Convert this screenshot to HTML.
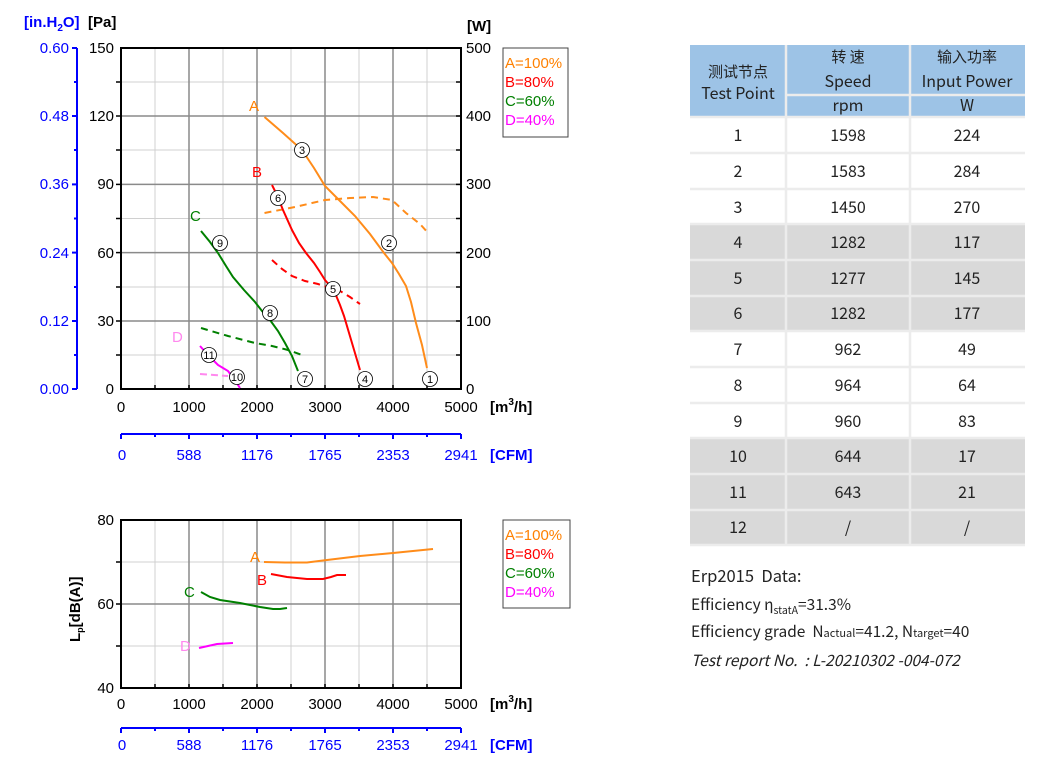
<!DOCTYPE html>
<html><head><meta charset="utf-8"><style>
html,body{margin:0;padding:0;background:#fff;width:1048px;height:771px;overflow:hidden}
svg{display:block}
.t{font-family:"Liberation Sans",sans-serif;font-size:15px}
.b{font-family:"Liberation Sans",sans-serif;font-size:15px;font-weight:bold}
.tb{font-family:"Noto Sans CJK SC","Liberation Sans",sans-serif;font-size:16px;fill:#222}
.c text{font-family:"Liberation Sans",sans-serif;font-size:11px;text-anchor:middle}
</style></head><body>
<svg width="1048" height="771" viewBox="0 0 1048 771" xmlns="http://www.w3.org/2000/svg">
<g stroke="#d0d0d0" stroke-width="1">
<line x1="155" y1="48" x2="155" y2="389"/><line x1="223" y1="48" x2="223" y2="389"/><line x1="291" y1="48" x2="291" y2="389"/><line x1="359" y1="48" x2="359" y2="389"/><line x1="427" y1="48" x2="427" y2="389"/>
<line x1="121" y1="355" x2="461" y2="355"/><line x1="121" y1="287" x2="461" y2="287"/><line x1="121" y1="218.5" x2="461" y2="218.5"/><line x1="121" y1="150" x2="461" y2="150"/><line x1="121" y1="82" x2="461" y2="82"/>
</g>
<g stroke="#8a8a8a" stroke-width="1.5">
<line x1="189" y1="48" x2="189" y2="389"/><line x1="257" y1="48" x2="257" y2="389"/><line x1="325" y1="48" x2="325" y2="389"/><line x1="393" y1="48" x2="393" y2="389"/>
<line x1="121" y1="321" x2="461" y2="321"/><line x1="121" y1="252.6" x2="461" y2="252.6"/><line x1="121" y1="184.4" x2="461" y2="184.4"/><line x1="121" y1="116" x2="461" y2="116"/>
</g>
<rect x="121" y="48" width="340" height="341" fill="none" stroke="#000" stroke-width="2"/>
<g stroke="#000" stroke-width="1.5">
<line x1="155" y1="389" x2="155" y2="385"/><line x1="189" y1="389" x2="189" y2="385"/><line x1="223" y1="389" x2="223" y2="385"/><line x1="257" y1="389" x2="257" y2="385"/><line x1="291" y1="389" x2="291" y2="385"/><line x1="325" y1="389" x2="325" y2="385"/><line x1="359" y1="389" x2="359" y2="385"/><line x1="393" y1="389" x2="393" y2="385"/><line x1="427" y1="389" x2="427" y2="385"/>
<line x1="121" y1="355" x2="116" y2="355"/><line x1="121" y1="321" x2="116" y2="321"/><line x1="121" y1="287" x2="116" y2="287"/><line x1="121" y1="252.6" x2="116" y2="252.6"/><line x1="121" y1="218.5" x2="116" y2="218.5"/><line x1="121" y1="184.4" x2="116" y2="184.4"/><line x1="121" y1="150" x2="116" y2="150"/><line x1="121" y1="116" x2="116" y2="116"/><line x1="121" y1="82" x2="116" y2="82"/>
<line x1="461" y1="355" x2="456" y2="355"/><line x1="461" y1="321" x2="456" y2="321"/><line x1="461" y1="287" x2="456" y2="287"/><line x1="461" y1="252.6" x2="456" y2="252.6"/><line x1="461" y1="218.5" x2="456" y2="218.5"/><line x1="461" y1="184.4" x2="456" y2="184.4"/><line x1="461" y1="150" x2="456" y2="150"/><line x1="461" y1="116" x2="456" y2="116"/><line x1="461" y1="82" x2="456" y2="82"/>
</g>
<g stroke="#0000ff" stroke-width="2"><line x1="77" y1="48" x2="77" y2="389"/>
<line x1="77" y1="48" x2="72" y2="48"/><line x1="77" y1="116" x2="72" y2="116"/><line x1="77" y1="184.4" x2="72" y2="184.4"/><line x1="77" y1="252.6" x2="72" y2="252.6"/><line x1="77" y1="321" x2="72" y2="321"/><line x1="77" y1="389" x2="72" y2="389"/>
<line x1="77" y1="82" x2="74" y2="82"/><line x1="77" y1="150" x2="74" y2="150"/><line x1="77" y1="218.5" x2="74" y2="218.5"/><line x1="77" y1="287" x2="74" y2="287"/><line x1="77" y1="355" x2="74" y2="355"/></g>
<g class="t" fill="#0000ff" text-anchor="end">
<text x="69" y="53">0.60</text><text x="69" y="121">0.48</text><text x="69" y="189">0.36</text><text x="69" y="258">0.24</text><text x="69" y="326">0.12</text><text x="69" y="394">0.00</text></g>
<g class="t" fill="#000" text-anchor="end">
<text x="114" y="53">150</text><text x="114" y="121">120</text><text x="114" y="189">90</text><text x="114" y="258">60</text><text x="114" y="326">30</text><text x="114" y="394">0</text></g>
<g class="t" fill="#000">
<text x="466" y="53">500</text><text x="466" y="121">400</text><text x="466" y="189">300</text><text x="466" y="258">200</text><text x="466" y="326">100</text><text x="466" y="394">0</text></g>
<text x="24" y="27" class="b" fill="#0000ff">[in.H<tspan font-size="10" dy="4">2</tspan><tspan dy="-4">O]</tspan></text>
<text x="88" y="27" class="b" fill="#000">[Pa]</text>
<text x="467" y="31" class="b" fill="#000">[W]</text>
<g class="t" fill="#000" text-anchor="middle">
<text x="121" y="412">0</text><text x="189" y="412">1000</text><text x="257" y="412">2000</text><text x="325" y="412">3000</text><text x="393" y="412">4000</text><text x="461" y="412">5000</text></g>
<text x="490" y="412" class="b">[m<tspan font-size="10" dy="-7">3</tspan><tspan dy="7">/h]</tspan></text>
<g stroke="#0000ff" stroke-width="2"><line x1="121" y1="434" x2="461" y2="434"/>
<line x1="121" y1="434" x2="121" y2="439"/><line x1="155" y1="434" x2="155" y2="437"/><line x1="189" y1="434" x2="189" y2="439"/><line x1="223" y1="434" x2="223" y2="437"/><line x1="257" y1="434" x2="257" y2="439"/><line x1="291" y1="434" x2="291" y2="437"/><line x1="325" y1="434" x2="325" y2="439"/><line x1="359" y1="434" x2="359" y2="437"/><line x1="393" y1="434" x2="393" y2="439"/><line x1="427" y1="434" x2="427" y2="437"/><line x1="461" y1="434" x2="461" y2="439"/></g>
<g class="t" fill="#0000ff" text-anchor="middle">
<text x="122" y="460">0</text><text x="189" y="460">588</text><text x="257" y="460">1176</text><text x="325" y="460">1765</text><text x="393" y="460">2353</text><text x="461" y="460">2941</text></g>
<text x="490" y="460" class="b" fill="#0000ff">[CFM]</text>
<rect x="503" y="48" width="65" height="89" fill="#fff" stroke="#444" stroke-width="1"/>
<g class="t"><text x="505" y="68" fill="#ff8000">A=100%</text><text x="505" y="87" fill="#ff0000">B=80%</text><text x="505" y="106" fill="#008000">C=60%</text><text x="505" y="125" fill="#ff00ff">D=40%</text></g>
<g fill="none" stroke-width="2">
<polyline stroke="#ff8c1a" points="264.5,117 283,133 302,150 314,168 325,186 340,201 355,216 370,234 384,253 392,263 399,274 406,286 411,302 416,323 422,345 427,368"/>
<polyline stroke="#ff8c1a" stroke-dasharray="7,5" points="264.5,213 295,207 325,200 350,198 373,197 392,200 406,213 420,224 429,234"/>
<polyline stroke="#ff0000" points="272,185 277,195 283,210 292,230 299,243 306,253 314,263 320,272 325,280 331,287 335,293 340,305 344,316 352,343 360,370"/>
<polyline stroke="#ff0000" stroke-dasharray="7,5" points="272,260 282,269 292,276 305,281 318,284 330,288 340,291 350,297 360,304"/>
<polyline stroke="#008000" points="201,231 210,242 218,253 226,266 233,277 244,290 255,302 262,311 270,320 278,331 285,343 292,356 298,371"/>
<polyline stroke="#008000" stroke-dasharray="7,5" points="201,328 228,336 255,343 272,346 288,350 302,355"/>
<polyline stroke="#ff00ff" points="200,346 209,356 218,365 228,371 234,379 240,388"/>
<polyline stroke="#ff88ee" stroke-dasharray="7,4" points="200,374 214,375 228,376"/>
</g>
<g class="t" font-size="15"><text x="249" y="111" fill="#ff8000">A</text><text x="252" y="177" fill="#ff0000">B</text><text x="190" y="221" fill="#008000">C</text><text x="172" y="342" fill="#ff88ee">D</text></g>
<g class="c" stroke-width="0.8">
<g><circle cx="302" cy="150" r="7.5" fill="#fff" stroke="#000"/><text x="302" y="154">3</text></g>
<g><circle cx="278" cy="198" r="7.5" fill="#fff" stroke="#000"/><text x="278" y="202">6</text></g>
<g><circle cx="389" cy="243" r="7.5" fill="#fff" stroke="#000"/><text x="389" y="247">2</text></g>
<g><circle cx="220" cy="243" r="7.5" fill="#fff" stroke="#000"/><text x="220" y="247">9</text></g>
<g><circle cx="333" cy="289" r="7.5" fill="#fff" stroke="#000"/><text x="333" y="293">5</text></g>
<g><circle cx="270" cy="313" r="7.5" fill="#fff" stroke="#000"/><text x="270" y="317">8</text></g>
<g><circle cx="209" cy="355" r="7.5" fill="#fff" stroke="#000"/><text x="209" y="359" font-size="10">11</text></g>
<g><circle cx="237" cy="377" r="7.5" fill="#fff" stroke="#000"/><text x="237" y="381" font-size="10">10</text></g>
<g><circle cx="305" cy="379" r="7.5" fill="#fff" stroke="#000"/><text x="305" y="383">7</text></g>
<g><circle cx="365" cy="379" r="7.5" fill="#fff" stroke="#000"/><text x="365" y="383">4</text></g>
<g><circle cx="430" cy="379" r="7.5" fill="#fff" stroke="#000"/><text x="430" y="383">1</text></g>
</g>

<g stroke="#d0d0d0" stroke-width="1">
<line x1="155" y1="520" x2="155" y2="688"/><line x1="223" y1="520" x2="223" y2="688"/><line x1="291" y1="520" x2="291" y2="688"/><line x1="359" y1="520" x2="359" y2="688"/><line x1="427" y1="520" x2="427" y2="688"/>
<line x1="121" y1="562" x2="461" y2="562"/><line x1="121" y1="646" x2="461" y2="646"/></g>
<g stroke="#8a8a8a" stroke-width="1.5">
<line x1="189" y1="520" x2="189" y2="688"/><line x1="257" y1="520" x2="257" y2="688"/><line x1="325" y1="520" x2="325" y2="688"/><line x1="393" y1="520" x2="393" y2="688"/>
<line x1="121" y1="604" x2="461" y2="604"/></g>
<rect x="121" y="520" width="340" height="168" fill="none" stroke="#000" stroke-width="2"/>
<g stroke="#000" stroke-width="1.5">
<line x1="155" y1="688" x2="155" y2="684"/><line x1="189" y1="688" x2="189" y2="684"/><line x1="223" y1="688" x2="223" y2="684"/><line x1="257" y1="688" x2="257" y2="684"/><line x1="291" y1="688" x2="291" y2="684"/><line x1="325" y1="688" x2="325" y2="684"/><line x1="359" y1="688" x2="359" y2="684"/><line x1="393" y1="688" x2="393" y2="684"/><line x1="427" y1="688" x2="427" y2="684"/>
<line x1="121" y1="562" x2="116" y2="562"/><line x1="121" y1="604" x2="116" y2="604"/><line x1="121" y1="646" x2="116" y2="646"/></g>
<g class="t" text-anchor="end"><text x="114" y="525">80</text><text x="114" y="609">60</text><text x="114" y="693">40</text></g>
<text transform="translate(80,642) rotate(-90)" class="b">L<tspan font-size="9" dy="3">p</tspan><tspan dy="-3">[dB(A)]</tspan></text>
<g class="t" text-anchor="middle">
<text x="121" y="709">0</text><text x="189" y="709">1000</text><text x="257" y="709">2000</text><text x="325" y="709">3000</text><text x="393" y="709">4000</text><text x="461" y="709">5000</text></g>
<text x="490" y="709" class="b">[m<tspan font-size="10" dy="-7">3</tspan><tspan dy="7">/h]</tspan></text>
<g stroke="#0000ff" stroke-width="2"><line x1="121" y1="728" x2="461" y2="728"/>
<line x1="121" y1="728" x2="121" y2="733"/><line x1="155" y1="728" x2="155" y2="731"/><line x1="189" y1="728" x2="189" y2="733"/><line x1="223" y1="728" x2="223" y2="731"/><line x1="257" y1="728" x2="257" y2="733"/><line x1="291" y1="728" x2="291" y2="731"/><line x1="325" y1="728" x2="325" y2="733"/><line x1="359" y1="728" x2="359" y2="731"/><line x1="393" y1="728" x2="393" y2="733"/><line x1="427" y1="728" x2="427" y2="731"/><line x1="461" y1="728" x2="461" y2="733"/></g>
<g class="t" fill="#0000ff" text-anchor="middle">
<text x="122" y="750">0</text><text x="189" y="750">588</text><text x="257" y="750">1176</text><text x="325" y="750">1765</text><text x="393" y="750">2353</text><text x="461" y="750">2941</text></g>
<text x="490" y="750" class="b" fill="#0000ff">[CFM]</text>
<rect x="503" y="520" width="67" height="88" fill="#fff" stroke="#444" stroke-width="1"/>
<g class="t"><text x="505" y="540" fill="#ff8000">A=100%</text><text x="505" y="559" fill="#ff0000">B=80%</text><text x="505" y="578" fill="#008000">C=60%</text><text x="505" y="597" fill="#ff00ff">D=40%</text></g>
<g fill="none" stroke-width="2">
<polyline stroke="#ff8c1a" points="264,562 285,562.5 307,562.5 327,560 360,556 393,553 433,549"/>
<polyline stroke="#ff0000" points="271,574 287,577 307,579 323,579 331,577 337,575 346,575"/>
<polyline stroke="#008000" points="201,592 210,597 220,600 240,603 260,607 273,609 280,609 287,608"/>
<polyline stroke="#ff00ff" points="199,648 208,646 217,644 233,643"/>
</g>
<g class="t"><text x="250" y="562" fill="#ff8000">A</text><text x="257" y="585" fill="#ff0000">B</text><text x="184" y="597" fill="#008000">C</text><text x="180" y="651" fill="#ff88ee">D</text></g>

<rect x="690" y="45" width="335" height="72" fill="#9dc3e6"/>
<rect x="690" y="117" width="335" height="428" fill="#fff"/>
<rect x="690" y="224" width="335" height="107" fill="#d9d9d9"/>
<rect x="690" y="438" width="335" height="107" fill="#d9d9d9"/>
<g stroke="#ececec" stroke-width="2.5">
<line x1="786" y1="45" x2="786" y2="545"/><line x1="910" y1="45" x2="910" y2="545"/>
<line x1="786" y1="95" x2="1025" y2="95"/>
<line x1="690" y1="117" x2="1025" y2="117"/><line x1="690" y1="153" x2="1025" y2="153"/><line x1="690" y1="189" x2="1025" y2="189"/><line x1="690" y1="224" x2="1025" y2="224"/><line x1="690" y1="260" x2="1025" y2="260"/><line x1="690" y1="296" x2="1025" y2="296"/><line x1="690" y1="331" x2="1025" y2="331"/><line x1="690" y1="367" x2="1025" y2="367"/><line x1="690" y1="403" x2="1025" y2="403"/><line x1="690" y1="438" x2="1025" y2="438"/><line x1="690" y1="474" x2="1025" y2="474"/><line x1="690" y1="510" x2="1025" y2="510"/><line x1="690" y1="545" x2="1025" y2="545"/>
</g>
<g class="tb" text-anchor="middle">
<text x="738" y="77" font-size="15">测试节点</text><text x="738" y="99">Test Point</text>
<text x="848" y="62" font-size="15">转 速</text><text x="848" y="87">Speed</text><text x="848" y="111">rpm</text>
<text x="967" y="62" font-size="15">输入功率</text><text x="967" y="87">Input Power</text><text x="967" y="111">W</text>
<text x="738" y="141">1</text><text x="848" y="141">1598</text><text x="967" y="141">224</text>
<text x="738" y="177">2</text><text x="848" y="177">1583</text><text x="967" y="177">284</text>
<text x="738" y="213">3</text><text x="848" y="213">1450</text><text x="967" y="213">270</text>
<text x="738" y="248">4</text><text x="848" y="248">1282</text><text x="967" y="248">117</text>
<text x="738" y="284">5</text><text x="848" y="284">1277</text><text x="967" y="284">145</text>
<text x="738" y="319">6</text><text x="848" y="319">1282</text><text x="967" y="319">177</text>
<text x="738" y="355">7</text><text x="848" y="355">962</text><text x="967" y="355">49</text>
<text x="738" y="391">8</text><text x="848" y="391">964</text><text x="967" y="391">64</text>
<text x="738" y="427">9</text><text x="848" y="427">960</text><text x="967" y="427">83</text>
<text x="738" y="462">10</text><text x="848" y="462">644</text><text x="967" y="462">17</text>
<text x="738" y="498">11</text><text x="848" y="498">643</text><text x="967" y="498">21</text>
<text x="738" y="533">12</text><text x="848" y="533">/</text><text x="967" y="533">/</text>
</g>
<g class="tb" fill="#111">
<text x="691" y="582" font-size="16.5">Erp2015&#160;&#160;Data:</text>
<text x="691" y="610" font-size="15.5">Efficiency η<tspan font-size="10.5" dy="4">statA</tspan><tspan dy="-4">=31.3%</tspan></text>
<text x="691" y="637" font-size="15.5">Efficiency grade&#160;&#160;N<tspan font-size="11">actual</tspan>=41.2, N<tspan font-size="11">target</tspan>=40</text>
<text x="691" y="666" font-size="15.5" font-style="italic">Test report No.&#160;&#160;: L-20210302 -004-072</text>
</g>
</svg>
</body></html>
